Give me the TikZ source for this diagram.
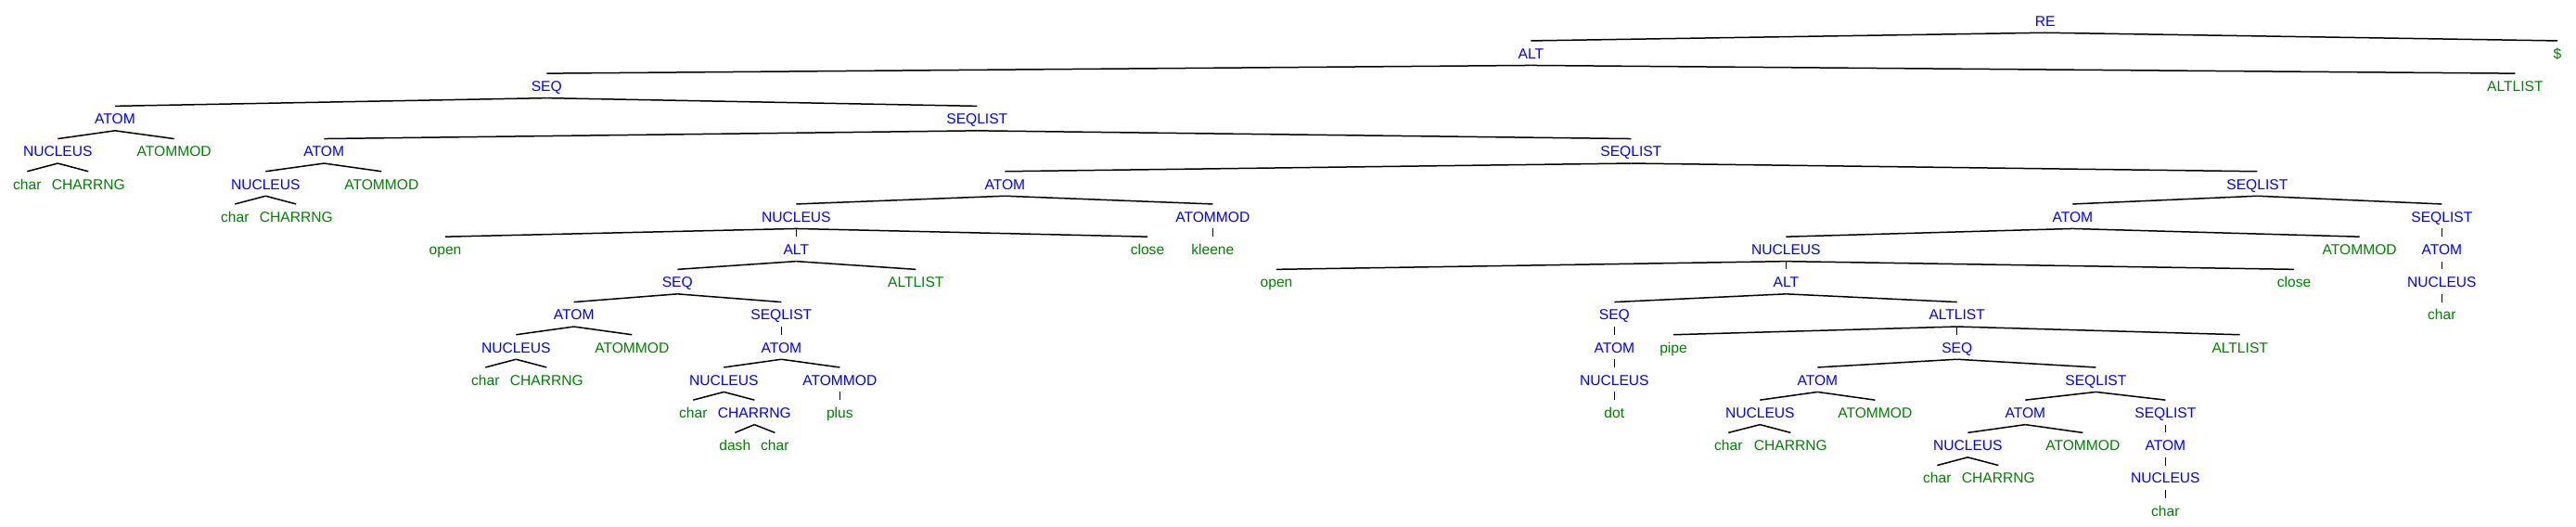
\documentclass[tikz,border=0pt]{standalone}
\usepackage{fontspec}
\setmainfont{Liberation Sans}
\usepackage{tikz}

\begin{document}
\begin{tikzpicture}[
  x=0.5pt, y=-17.6pt,
  lab/.style={anchor=base, inner sep=0pt, text height=9.3pt, text depth=3.2pt, font=\fontsize{7.8}{9}\selectfont},
  nt/.style={lab, text=blue},
  tm/.style={lab, text=green!50!black},
  every path/.style={line width=0.75pt}
]
\useasboundingbox (0,-0.798) rectangle (2777,15.312);

% row 0-2
\node[nt] (re) at (2204.7,0) {RE};
\node[nt] (alt) at (1650.3,1) {ALT};
\node[tm] (dollar) at (2757,1) {\$};
\node[nt] (seq) at (589.3,2) {SEQ};
\node[tm] (altl) at (2711.3,2) {ALTLIST};

% row 3-4
\node[nt] (atom1) at (124,3) {ATOM};
\node[nt] (sl1) at (1053.3,3) {SEQLIST};
\node[nt] (nuc1) at (62.3,4) {NUCLEUS};
\node[tm] (mod1) at (187.7,4) {ATOMMOD};
\node[nt] (atom2) at (349.3,4) {ATOM};
\node[nt] (sl2) at (1758.3,4) {SEQLIST};

% row 5-6
\node[tm] (ch1) at (29.3,5) {char};
\node[tm] (rng1) at (95.3,5) {CHARRNG};
\node[nt] (nuc2) at (286.3,5) {NUCLEUS};
\node[tm] (mod2) at (411.3,5) {ATOMMOD};
\node[nt] (atom3) at (1083.3,5) {ATOM};
\node[nt] (sl3) at (2433.3,5) {SEQLIST};
\node[tm] (ch2) at (253.3,6) {char};
\node[tm] (rng2) at (319.3,6) {CHARRNG};
\node[nt] (nuc3) at (858.3,6) {NUCLEUS};
\node[nt] (mod3) at (1307.3,6) {ATOMMOD};
\node[nt] (atom4) at (2234.3,6) {ATOM};
\node[nt] (sl4) at (2632.3,6) {SEQLIST};

% row 7-8
\node[tm] (open1) at (480,7) {open};
\node[nt] (alt2) at (858.3,7) {ALT};
\node[tm] (close1) at (1237,7) {close};
\node[tm] (kleene) at (1307.3,7) {kleene};
\node[nt] (nuc4) at (1925.3,7) {NUCLEUS};
\node[tm] (mod4) at (2543.7,7) {ATOMMOD};
\node[nt] (atom5) at (2632.3,7) {ATOM};
\node[nt] (seq2) at (730.3,8) {SEQ};
\node[tm] (altl2) at (987.3,8) {ALTLIST};
\node[tm] (open2) at (1376,8) {open};
\node[nt] (alt3) at (1925.3,8) {ALT};
\node[tm] (close2) at (2473,8) {close};
\node[nt] (nuc5) at (2632.3,8) {NUCLEUS};

% row 9-10
\node[nt] (atom6) at (618.7,9) {ATOM};
\node[nt] (sl5) at (842.3,9) {SEQLIST};
\node[nt] (seq3) at (1740.3,9) {SEQ};
\node[nt] (altl3) at (2109.7,9) {ALTLIST};
\node[tm] (ch3) at (2632.3,9) {char};
\node[nt] (nuc6) at (556.3,10) {NUCLEUS};
\node[tm] (mod6) at (681.3,10) {ATOMMOD};
\node[nt] (atom7) at (842.3,10) {ATOM};
\node[nt] (atom8) at (1740.3,10) {ATOM};
\node[tm] (pipe) at (1804,10) {pipe};
\node[nt] (seq4) at (2109.7,10) {SEQ};
\node[tm] (altl4) at (2414.7,10) {ALTLIST};

% row 11-12
\node[tm] (ch4) at (523.3,11) {char};
\node[tm] (rng4) at (589.3,11) {CHARRNG};
\node[nt] (nuc7) at (780.3,11) {NUCLEUS};
\node[nt] (mod7) at (905.3,11) {ATOMMOD};
\node[nt] (nuc8) at (1740.3,11) {NUCLEUS};
\node[nt] (atom9) at (1959.3,11) {ATOM};
\node[nt] (sl6) at (2259.3,11) {SEQLIST};
\node[tm] (ch5) at (747.3,12) {char};
\node[nt] (rng5) at (813.3,12) {CHARRNG};
\node[tm] (plus) at (905.3,12) {plus};
\node[tm] (dot) at (1740.3,12) {dot};
\node[nt] (nuc9) at (1897.3,12) {NUCLEUS};
\node[tm] (mod9) at (2021.3,12) {ATOMMOD};
\node[nt] (atom10) at (2183.3,12) {ATOM};
\node[nt] (sl7) at (2334.3,12) {SEQLIST};

% row 13-15
\node[tm] (dash) at (792.3,13) {dash};
\node[tm] (ch6) at (835.3,13) {char};
\node[tm] (ch7) at (1863.3,13) {char};
\node[tm] (rng7) at (1930.3,13) {CHARRNG};
\node[nt] (nuc10) at (2121.3,13) {NUCLEUS};
\node[tm] (mod10) at (2245.3,13) {ATOMMOD};
\node[nt] (atom11) at (2334.3,13) {ATOM};
\node[tm] (ch8) at (2088.3,14) {char};
\node[tm] (rng8) at (2154.3,14) {CHARRNG};
\node[nt] (nuc11) at (2334.3,14) {NUCLEUS};
\node[tm] (ch9) at (2334.3,15) {char};

% edges
\draw (re.south) -- (alt.north);
\draw (re.south) -- (dollar.north);
\draw (alt.south) -- (seq.north);
\draw (alt.south) -- (altl.north);
\draw (seq.south) -- (atom1.north);
\draw (seq.south) -- (sl1.north);
\draw (atom1.south) -- (nuc1.north);
\draw (atom1.south) -- (mod1.north);
\draw (nuc1.south) -- (ch1.north);
\draw (nuc1.south) -- (rng1.north);
\draw (sl1.south) -- (atom2.north);
\draw (sl1.south) -- (sl2.north);
\draw (atom2.south) -- (nuc2.north);
\draw (atom2.south) -- (mod2.north);
\draw (nuc2.south) -- (ch2.north);
\draw (nuc2.south) -- (rng2.north);
\draw (sl2.south) -- (atom3.north);
\draw (sl2.south) -- (sl3.north);
\draw (atom3.south) -- (nuc3.north);
\draw (atom3.south) -- (mod3.north);
\draw (nuc3.south) -- (open1.north);
\draw (nuc3.south) -- (alt2.north);
\draw (nuc3.south) -- (close1.north);
\draw (mod3.south) -- (kleene.north);
\draw (alt2.south) -- (seq2.north);
\draw (alt2.south) -- (altl2.north);
\draw (seq2.south) -- (atom6.north);
\draw (seq2.south) -- (sl5.north);
\draw (atom6.south) -- (nuc6.north);
\draw (atom6.south) -- (mod6.north);
\draw (nuc6.south) -- (ch4.north);
\draw (nuc6.south) -- (rng4.north);
\draw (sl5.south) -- (atom7.north);
\draw (atom7.south) -- (nuc7.north);
\draw (atom7.south) -- (mod7.north);
\draw (nuc7.south) -- (ch5.north);
\draw (nuc7.south) -- (rng5.north);
\draw (rng5.south) -- (dash.north);
\draw (rng5.south) -- (ch6.north);
\draw (mod7.south) -- (plus.north);
\draw (sl3.south) -- (atom4.north);
\draw (sl3.south) -- (sl4.north);
\draw (atom4.south) -- (nuc4.north);
\draw (atom4.south) -- (mod4.north);
\draw (nuc4.south) -- (open2.north);
\draw (nuc4.south) -- (alt3.north);
\draw (nuc4.south) -- (close2.north);
\draw (alt3.south) -- (seq3.north);
\draw (alt3.south) -- (altl3.north);
\draw (seq3.south) -- (atom8.north);
\draw (atom8.south) -- (nuc8.north);
\draw (nuc8.south) -- (dot.north);
\draw (altl3.south) -- (pipe.north);
\draw (altl3.south) -- (seq4.north);
\draw (altl3.south) -- (altl4.north);
\draw (seq4.south) -- (atom9.north);
\draw (seq4.south) -- (sl6.north);
\draw (atom9.south) -- (nuc9.north);
\draw (atom9.south) -- (mod9.north);
\draw (nuc9.south) -- (ch7.north);
\draw (nuc9.south) -- (rng7.north);
\draw (sl6.south) -- (atom10.north);
\draw (sl6.south) -- (sl7.north);
\draw (atom10.south) -- (nuc10.north);
\draw (atom10.south) -- (mod10.north);
\draw (nuc10.south) -- (ch8.north);
\draw (nuc10.south) -- (rng8.north);
\draw (sl7.south) -- (atom11.north);
\draw (atom11.south) -- (nuc11.north);
\draw (nuc11.south) -- (ch9.north);
\draw (sl4.south) -- (atom5.north);
\draw (atom5.south) -- (nuc5.north);
\draw (nuc5.south) -- (ch3.north);

\end{tikzpicture}
\end{document}
